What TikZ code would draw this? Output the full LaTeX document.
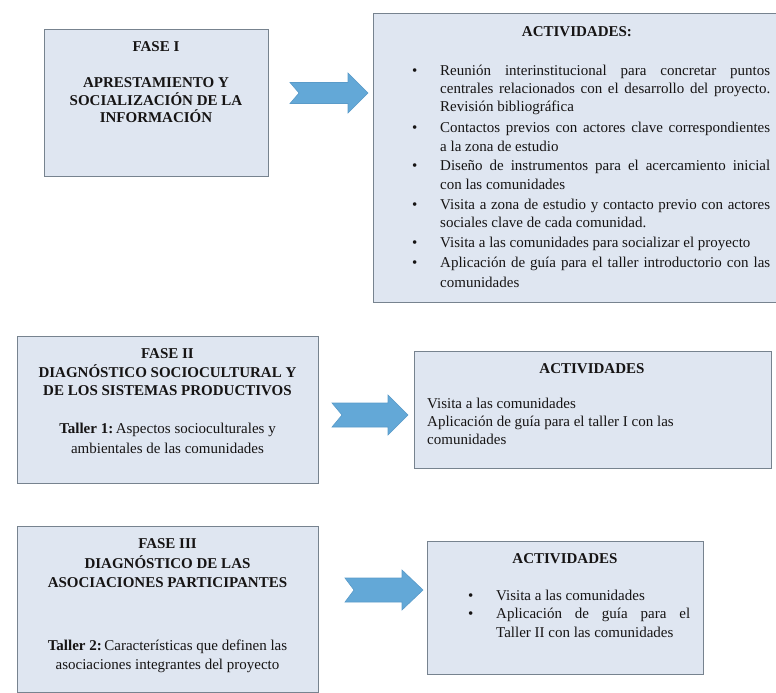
\documentclass[tikz,border=0pt]{standalone}
\usepackage{fontspec}
\setmainfont{Liberation Serif}
\definecolor{boxfill}{HTML}{DFE6F1}
\definecolor{boxline}{HTML}{77838F}
\definecolor{arrfill}{HTML}{63A8D7}
\definecolor{arrline}{HTML}{5A9BC9}
\definecolor{ink}{HTML}{161414}
\tikzset{
  phasebox/.style={draw=boxline, line width=1.4pt, fill=boxfill, inner sep=0pt, anchor=north west},
  fatarrow/.style={draw=arrline, line width=0.6pt, fill=arrfill, line join=miter},
  txt/.style={font=\fontsize{15}{18}\selectfont, text=ink, inner sep=0pt},
  cline/.style={txt, anchor=base},
  lline/.style={txt, anchor=base west},
  bul/.style={txt, anchor=base west},
}
\newcommand{\Jst}[2]{\makebox[#1][s]{#2}}
\begin{document}
\begin{tikzpicture}[x=1pt, y=-1pt]
\useasboundingbox (0,0) rectangle (776,693);

% ---- boxes ----
\node[phasebox, minimum width=224pt, minimum height=147pt] (f1) at (44,29) {};
\node[phasebox, minimum width=405pt, minimum height=289pt] (a1) at (373,13) {};
\node[phasebox, minimum width=301pt, minimum height=147pt] (f2) at (17,336) {};
\node[phasebox, minimum width=357pt, minimum height=117pt] (a2) at (414,351) {};
\node[phasebox, minimum width=301pt, minimum height=166pt] (f3) at (17,526) {};
\node[phasebox, minimum width=276pt, minimum height=133pt] (a3) at (427,541) {};

% ---- arrows ----
\draw[fatarrow] (290,82.5) -- (348,82.5) -- (348,73) -- (368,93) -- (348,113) -- (348,103.5) -- (290,103.5) -- (299,93) -- cycle;
\draw[fatarrow] (332,403) -- (388,403) -- (388,395) -- (408,415) -- (388,435) -- (388,427) -- (332,427) -- (342,415) -- cycle;
\draw[fatarrow] (345,578) -- (402,578) -- (402,570) -- (423,590) -- (402,610) -- (402,602) -- (345,602) -- (354,590) -- cycle;

% ---- Fase I ----
\node[cline] (f1t1) at (156,52) {\bfseries FASE I};
\node[cline] (f1t2) at (156,87) {\bfseries APRESTAMIENTO Y};
\node[cline] (f1t3) at (156,105) {\bfseries SOCIALIZACIÓN DE LA};
\node[cline] (f1t4) at (156,122) {\bfseries INFORMACIÓN};

% ---- Actividades I ----
\node[cline] (a1t) at (577,37) {\bfseries ACTIVIDADES:};
\node[bul] (b1) at (412,75) {\textbullet};
\node[lline] (a1l1) at (440,75) {\Jst{330pt}{Reunión interinstitucional para concretar puntos}};
\node[lline] (a1l2) at (440,93) {\Jst{330pt}{centrales relacionados con el desarrollo del proyecto.}};
\node[lline] (a1l3) at (440,111) {Revisión bibliográfica};
\node[bul] (b2) at (412,132) {\textbullet};
\node[lline] (a1l4) at (440,132) {\Jst{330pt}{Contactos previos con actores clave correspondientes}};
\node[lline] (a1l5) at (440,151) {a la zona de estudio};
\node[bul] (b3) at (412,170) {\textbullet};
\node[lline] (a1l6) at (440,170) {\Jst{330pt}{Diseño de instrumentos para el acercamiento inicial}};
\node[lline] (a1l7) at (440,189) {con las comunidades};
\node[bul] (b4) at (412,209) {\textbullet};
\node[lline] (a1l8) at (440,209) {\Jst{330pt}{Visita a zona de estudio y contacto previo con actores}};
\node[lline] (a1l9) at (440,227) {sociales clave de cada comunidad.};
\node[bul] (b5) at (412,247) {\textbullet};
\node[lline] (a1l10) at (440,247) {Visita a las comunidades para socializar el proyecto};
\node[bul] (b6) at (412,267) {\textbullet};
\node[lline] (a1l11) at (440,267) {\Jst{330pt}{Aplicación de guía para el taller introductorio con las}};
\node[lline] (a1l12) at (440,287) {comunidades};

% ---- Fase II ----
\node[cline] (f2t1) at (167.5,358) {\bfseries FASE II};
\node[cline] (f2t2) at (167.5,377) {\bfseries DIAGNÓSTICO SOCIOCULTURAL Y};
\node[cline] (f2t3) at (167.5,395) {\bfseries DE LOS SISTEMAS PRODUCTIVOS};
\node[cline] (f2t4) at (167.5,433) {\textbf{Taller 1:}\,Aspectos socioculturales y};
\node[cline] (f2t5) at (167.5,453) {ambientales de las comunidades};

% ---- Actividades II ----
\node[cline] (a2t) at (592,373) {\bfseries ACTIVIDADES};
\node[lline] (a2l1) at (427,408) {Visita a las comunidades};
\node[lline] (a2l2) at (427,426) {Aplicación de guía para el taller I con las};
\node[lline] (a2l3) at (427,444) {comunidades};

% ---- Fase III ----
\node[cline] (f3t1) at (167.5,548) {\bfseries FASE III};
\node[cline] (f3t2) at (167.5,568) {\bfseries DIAGNÓSTICO DE LAS};
\node[cline] (f3t3) at (167.5,587) {\bfseries ASOCIACIONES PARTICIPANTES};
\node[cline] (f3t4) at (167.5,650) {\textbf{Taller 2:}\,Características que definen las};
\node[cline] (f3t5) at (167.5,669) {asociaciones integrantes del proyecto};

% ---- Actividades III ----
\node[cline] (a3t) at (565,563) {\bfseries ACTIVIDADES};
\node[bul] (b7) at (468,600) {\textbullet};
\node[lline] (a3l1) at (496,600) {Visita a las comunidades};
\node[bul] (b8) at (468,618) {\textbullet};
\node[lline] (a3l2) at (496,618) {\Jst{194pt}{Aplicación de guía para el}};
\node[lline] (a3l3) at (496,637) {Taller II con las comunidades};
\end{tikzpicture}
\end{document}
